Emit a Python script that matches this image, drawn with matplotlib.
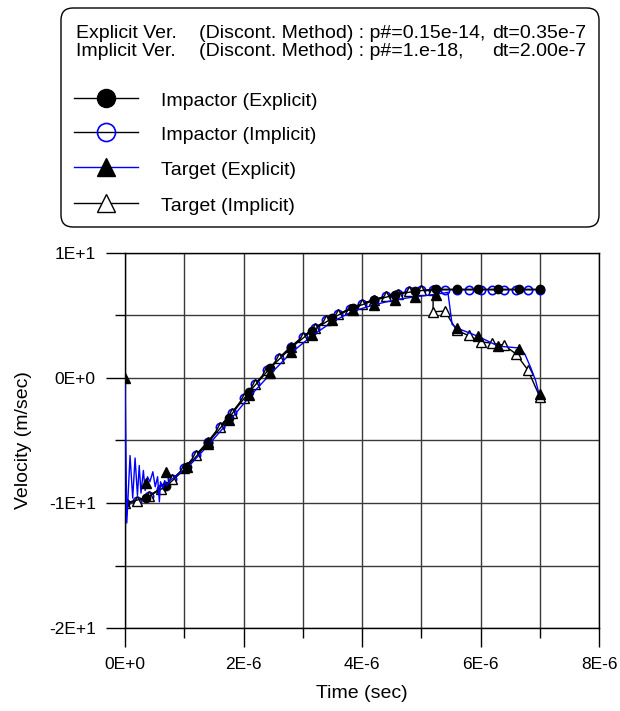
"""Impactor / target velocity histories, explicit vs implicit solver."""

import numpy as np
import matplotlib
matplotlib.use("Agg")
import matplotlib.pyplot as plt
from matplotlib.lines import Line2D
from matplotlib.patches import FancyBboxPatch
from matplotlib.transforms import IdentityTransform

plt.rcParams['font.family'] = ['Liberation Sans', 'DejaVu Sans']

# ---- data (time in micro-seconds, velocity in m/sec) ----
t_imp_impl = [0.0, 0.2, 0.4, 0.6, 0.8, 1.0, 1.2, 1.4, 1.6, 1.8, 2.0, 2.2,
              2.4, 2.6, 2.8, 3.0, 3.2, 3.4, 3.6, 3.8, 4.0, 4.2, 4.4, 4.6,
              4.8, 5.0, 5.2, 5.4, 5.6, 5.8, 6.0, 6.2, 6.4, 6.6, 6.8, 7.0]
v_imp_impl = [-10.0, -9.84, -9.45, -8.85, -8.1, -7.2, -6.15, -5.1, -3.9,
              -2.8, -1.6, -0.45, 0.6, 1.6, 2.5, 3.3, 4.0, 4.6, 5.1, 5.55,
              5.95, 6.25, 6.55, 6.75, 6.92, 7.02, 7.05, 7.05, 7.05, 7.05,
              7.05, 7.05, 7.05, 7.05, 7.05, 7.05]

t_imp_expl = [0.0, 0.35, 0.7, 1.05, 1.4, 1.75, 2.1, 2.45, 2.8, 3.15, 3.5,
              3.85, 4.2, 4.55, 4.9, 5.25, 5.6, 5.95, 6.3, 6.65, 7.0]
v_imp_expl = [-10.0, -9.6, -8.65, -7.1, -5.2, -3.2, -1.1, 0.8, 2.4, 3.75,
              4.8, 5.6, 6.2, 6.65, 6.95, 7.1, 7.1, 7.1, 7.1, 7.1, 7.1]

# target, explicit: full output history (line) and sampled points (markers)
t_tgt_expl_line = [0.0, 0.03, 0.085, 0.13, 0.17, 0.21, 0.24, 0.27, 0.31,
                   0.34, 0.38, 0.42, 0.47, 0.51, 0.55, 0.58, 0.60, 0.64,
                   0.67, 0.70, 0.76, 0.9, 1.05, 1.4, 1.75, 2.1, 2.45, 2.8,
                   3.15, 3.5, 3.85, 4.2, 4.55, 4.9, 5.25, 5.45, 5.52, 5.6,
                   5.95, 6.3, 6.65, 6.75, 6.85, 6.93, 7.0]
v_tgt_expl_line = [0.0, -11.6, -6.2, -9.6, -6.4, -9.4, -7.0, -9.2, -7.4,
                   -9.0, -7.9, -8.3, -7.5, -8.7, -7.9, -9.9, -8.3, -8.8,
                   -8.2, -8.6, -8.2, -7.7, -7.2, -5.4, -3.5, -1.5, 0.3, 2.0,
                   3.35, 4.5, 5.35, 5.85, 6.25, 6.5, 6.7, 6.85, 4.3, 4.0,
                   3.35, 2.55, 2.4, 1.9, 0.8, -0.2, -1.5]
t_tgt_expl = [0.0, 0.35, 0.7, 1.05, 1.4, 1.75, 2.1, 2.45, 2.8, 3.15, 3.5,
              3.85, 4.2, 4.55, 4.9, 5.25, 5.6, 5.95, 6.3, 6.65, 7.0]
v_tgt_expl = [0.0, -8.4, -7.55, -7.1, -5.3, -3.4, -1.4, 0.4, 2.1, 3.45,
              4.6, 5.4, 5.85, 6.25, 6.5, 6.6, 4.0, 3.35, 2.55, 2.35, -1.3]

t_tgt_impl = [0.0, 0.2, 0.4, 0.6, 0.8, 1.0, 1.2, 1.4, 1.6, 1.8, 2.0, 2.2,
              2.4, 2.6, 2.8, 3.0, 3.2, 3.4, 3.6, 3.8, 4.0, 4.2, 4.4, 4.6,
              4.8, 5.0, 5.2, 5.2, 5.4, 5.6, 5.8, 6.0, 6.2, 6.4, 6.6, 6.8, 7.0]
v_tgt_impl = [-10.0, -9.85, -9.45, -8.85, -8.1, -7.2, -6.15, -5.1, -3.9,
              -2.8, -1.6, -0.45, 0.6, 1.6, 2.5, 3.3, 4.0, 4.6, 5.1, 5.55,
              5.95, 6.25, 6.55, 6.75, 6.92, 7.0, 7.0, 5.3, 5.35, 3.8, 3.4,
              2.9, 2.78, 2.62, 1.92, 0.64, -1.5]

x_ticks = [0, 2e-6, 4e-6, 6e-6, 8e-6]
x_tick_labels = ['0E+0', '2E-6', '4E-6', '6E-6', '8E-6']
y_ticks = [-20, -10, 0, 10]
y_tick_labels = ['-2E+1', '-1E+1', '0E+0', '1E+1']

header_rows = [
    ('Explicit Ver.', '(Discont. Method) : p#=0.15e-14,', 'dt=0.35e-7'),
    ('Implicit Ver.', '(Discont. Method) : p#=1.e-18,', 'dt=2.00e-7'),
]

W, H = 620, 711
fig = plt.figure(figsize=(W / 100, H / 100), dpi=100)


def fx(x):
    return x / W


def fy(y):
    return 1 - y / H


ax = fig.add_axes([fx(125), fy(628), 474 / W, 375 / H])

us = 1e-6
styles = {
    'imp_impl': dict(color='black', lw=1, marker='o', ms=6, mfc='none',
                     mec='blue', mew=1.2),
    'tgt_impl': dict(color='black', lw=1, marker='^', ms=6.5, mfc='white',
                     mec='black', mew=1.0),
    'imp_expl': dict(color='black', lw=1, marker='o', ms=6, mfc='black',
                     mec='black'),
    'tgt_expl': dict(color='blue', lw=1, marker='^', ms=7, mfc='black',
                     mec='black'),
}

ax.plot(np.array(t_imp_impl) * us, v_imp_impl, **styles['imp_impl'], zorder=3)
ax.plot(np.array(t_tgt_impl) * us, v_tgt_impl, **styles['tgt_impl'], zorder=4)
ax.plot(np.array(t_imp_expl) * us, v_imp_expl, **styles['imp_expl'], zorder=5)
ax.plot(np.array(t_tgt_expl_line) * us, v_tgt_expl_line, color='blue', lw=1,
        zorder=5)
ax.plot(np.array(t_tgt_expl) * us, v_tgt_expl, ls='none', marker='^', ms=7,
        mfc='black', mec='black', zorder=6)

ax.set_xlim(0, 8e-6)
ax.set_ylim(-20, 10)
ax.set_xticks(x_ticks)
ax.set_xticklabels(x_tick_labels, fontsize=12.5)
ax.set_xticks(np.arange(1, 8, 2) * us, minor=True)
ax.set_yticks(y_ticks)
ax.set_yticklabels(y_tick_labels, fontsize=12.5)
ax.set_yticks([-15, -5, 5], minor=True)
ax.tick_params(which='major', direction='out', length=14, width=1, pad=7)
ax.tick_params(which='minor', direction='out', length=7, width=1)
ax.grid(which='both', color='#3a3a3a', lw=1)
ax.set_axisbelow(True)
for s in ax.spines.values():
    s.set_linewidth(1)

ax.set_xlabel('Time (sec)', fontsize=14)
ax.xaxis.set_label_coords(0.5, (628 - 694) / 375)
ax.xaxis.label.set_va('center')
ax.set_ylabel('Velocity (m/sec)', fontsize=14)
ax.yaxis.set_label_coords((24 - 125) / 474, 0.5)
ax.yaxis.label.set_va('center')

# ---- legend box ----
box = FancyBboxPatch((61, H - 227), 538, 219,
                     boxstyle='round,pad=0,rounding_size=12',
                     transform=IdentityTransform(), fc='white', ec='black',
                     lw=1)
fig.add_artist(box)

for (name, method, dt), base in zip(header_rows, [38, 56]):
    fig.text(fx(76), fy(base), name, fontsize=14, va='baseline')
    fig.text(fx(199), fy(base), method, fontsize=14, va='baseline')
    fig.text(fx(586), fy(base), dt, fontsize=14, va='baseline', ha='right')

legend_rows = [
    ('Impactor (Explicit)', 'imp_expl', 'black', 98),
    ('Impactor (Implicit)', 'imp_impl', 'black', 132),
    ('Target (Explicit)', 'tgt_expl', 'blue', 167),
    ('Target (Implicit)', 'tgt_impl', 'black', 203),
]
for label, key, lcol, yc in legend_rows:
    st = dict(styles[key])
    st['color'] = lcol
    st['ms'] = 13
    fig.add_artist(Line2D([fx(74), fx(138)], [fy(yc), fy(yc)],
                          transform=fig.transFigure, **{k: v for k, v in st.items() if k != 'marker'}))
    fig.add_artist(Line2D([fx(106)], [fy(yc)], transform=fig.transFigure,
                          ls='none', **st))
    fig.text(fx(161), fy(yc + 8), label, fontsize=14, va='baseline')

fig.savefig('out.png', dpi=100)
